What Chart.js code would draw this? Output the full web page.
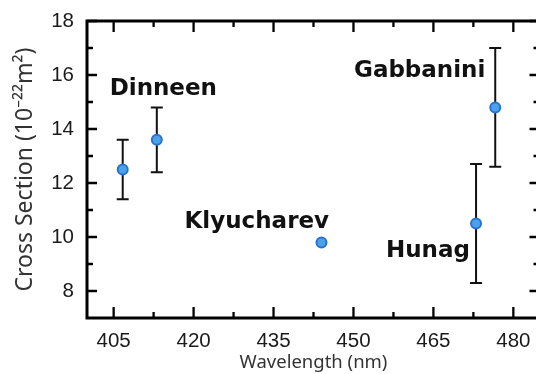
<!DOCTYPE html>
<html>

<head>
    <title>Cross Section vs Wavelength</title>
    <script src="https://cdn.jsdelivr.net/npm/chart.js"></script>
    <style>
        body { margin: 0; overflow: hidden; background: #fff; }
        #wrap { width: 547px; height: 374px; }
    </style>
</head>

<body>
    <div id="wrap">
        <canvas id="crossChart" width="547" height="374"></canvas>
    </div>

    <script>
        // measured points (wavelength nm, cross section 1e-22 m^2)
        var wavelengths = [406.7, 413.1, 444.0, 473.0, 476.6];
        var crossSections = [12.5, 13.6, 9.8, 10.5, 14.8];
        var errLow = [11.4, 12.4, null, 8.3, 12.6];
        var errHigh = [13.6, 14.8, null, 12.7, 17.0];

        // tick values
        var xTicks = [405, 420, 435, 450, 465, 480];
        var xMinor = [412.5, 427.5, 442.5, 457.5, 472.5];
        var yTicks = [8, 10, 12, 14, 16, 18];
        var yMinor = [9, 11, 13, 15, 17];

        // group names and where their text starts (data units)
        var groupNames = ['Dinneen', 'Gabbanini', 'Klyucharev', 'Hunag'];
        var groupX = [404.25, 450.1, 418.3, 456.1];
        var groupY = [15.27, 15.93, 10.33, 9.26];

        var points = wavelengths.map(function (w, i) {
            return { x: w, y: crossSections[i] };
        });

        // frame with inward ticks on all four sides
        var framePlugin = {
            id: 'frame',
            afterDraw: function (chart) {
                var ctx = chart.ctx;
                var a = chart.chartArea;
                var xs = chart.scales.x, ys = chart.scales.y;
                var right = a.right - 0.5;
                ctx.save();
                ctx.strokeStyle = '#000';
                ctx.lineWidth = 3;
                ctx.beginPath();
                ctx.moveTo(a.left, a.top);
                ctx.lineTo(a.left, a.bottom);
                ctx.moveTo(a.left - 1.5, a.bottom);
                ctx.lineTo(right, a.bottom);
                ctx.moveTo(a.left - 1.5, a.top);
                ctx.lineTo(right, a.top);
                ctx.moveTo(right, a.top);
                ctx.lineTo(right, a.bottom);
                ctx.stroke();

                ctx.lineWidth = 2.3;
                ctx.beginPath();
                function xt(v, len) {
                    var px = xs.getPixelForValue(v);
                    ctx.moveTo(px, a.bottom);
                    ctx.lineTo(px, a.bottom - len);
                    ctx.moveTo(px, a.top);
                    ctx.lineTo(px, a.top + len);
                }
                function yt(v, len) {
                    var py = ys.getPixelForValue(v);
                    ctx.moveTo(a.left, py);
                    ctx.lineTo(a.left + len, py);
                    ctx.moveTo(right, py);
                    ctx.lineTo(right - len, py);
                }
                xTicks.forEach(function (v) { xt(v, 11); });
                xMinor.forEach(function (v) { xt(v, 6); });
                yTicks.forEach(function (v) { yt(v, 10); });
                yMinor.forEach(function (v) { yt(v, 6); });
                ctx.stroke();
                ctx.restore();
            }
        };

        // vertical error bars with caps
        var errorBarPlugin = {
            id: 'errorBars',
            beforeDatasetsDraw: function (chart) {
                var ctx = chart.ctx;
                var xs = chart.scales.x, ys = chart.scales.y;
                ctx.save();
                ctx.strokeStyle = '#111';
                ctx.lineWidth = 2;
                ctx.beginPath();
                wavelengths.forEach(function (w, i) {
                    if (errLow[i] === null) return;
                    var px = xs.getPixelForValue(w);
                    var lo = ys.getPixelForValue(errLow[i]);
                    var hi = ys.getPixelForValue(errHigh[i]);
                    ctx.moveTo(px, lo);
                    ctx.lineTo(px, hi);
                    ctx.moveTo(px - 6, lo);
                    ctx.lineTo(px + 6, lo);
                    ctx.moveTo(px - 6, hi);
                    ctx.lineTo(px + 6, hi);
                });
                ctx.stroke();
                ctx.restore();
            }
        };

        // bold group names
        var namePlugin = {
            id: 'groupNames',
            afterDatasetsDraw: function (chart) {
                var ctx = chart.ctx;
                var xs = chart.scales.x, ys = chart.scales.y;
                ctx.save();
                ctx.font = 'bold 23px "DejaVu Sans"';
                ctx.fillStyle = '#111';
                ctx.textAlign = 'left';
                ctx.textBaseline = 'alphabetic';
                groupNames.forEach(function (name, i) {
                    ctx.fillText(name, xs.getPixelForValue(groupX[i]), ys.getPixelForValue(groupY[i]));
                });
                ctx.restore();
            }
        };

        var ctx = document.getElementById('crossChart').getContext('2d');
        var crossChart = new Chart(ctx, {
            type: 'scatter',
            data: {
                datasets: [{
                    data: points,
                    pointRadius: 5,
                    pointHoverRadius: 5,
                    pointBorderWidth: 2,
                    backgroundColor: '#4aa3ea',
                    borderColor: '#2a72cf'
                }]
            },
            options: {
                responsive: false,
                animation: false,
                events: [],
                layout: { padding: { top: 21, right: 0, bottom: 0, left: 0 } },
                plugins: {
                    legend: { display: false },
                    tooltip: { enabled: false }
                },
                scales: {
                    x: {
                        type: 'linear',
                        min: 400,
                        max: 485,
                        grid: { display: false },
                        border: { display: false },
                        afterBuildTicks: function (scale) {
                            scale.ticks = xTicks.map(function (v) { return { value: v }; });
                        },
                        afterFit: function (scale) {
                            scale.height = 56;
                            scale.paddingLeft = 0;
                            scale.paddingRight = 0;
                        },
                        ticks: {
                            padding: 3,
                            maxRotation: 0,
                            color: '#1a1a1a',
                            font: { family: '"Liberation Sans"', size: 20.5 }
                        },
                        title: {
                            display: true,
                            text: 'Wavelength (nm)',
                            color: '#333',
                            padding: { top: 0, bottom: 0 },
                            font: { family: '"Noto Sans"', size: 18.5 }
                        }
                    },
                    y: {
                        min: 7,
                        max: 18,
                        grid: { display: false },
                        border: { display: false },
                        afterBuildTicks: function (scale) {
                            scale.ticks = yTicks.map(function (v) { return { value: v }; });
                        },
                        afterFit: function (scale) {
                            scale.width = 87;
                            scale.paddingTop = 0;
                            scale.paddingBottom = 0;
                        },
                        ticks: {
                            padding: 5,
                            color: '#1a1a1a',
                            font: { family: '"Liberation Sans"', size: 20.5 }
                        },
                        title: {
                            display: true,
                            text: 'Cross Section (10⁻²²m²)',
                            color: '#333',
                            padding: { top: 12, bottom: 0 },
                            font: { family: '"Noto Sans"', size: 23 }
                        }
                    }
                }
            },
            plugins: [errorBarPlugin, framePlugin, namePlugin]
        });
    </script>

</body>

</html>
